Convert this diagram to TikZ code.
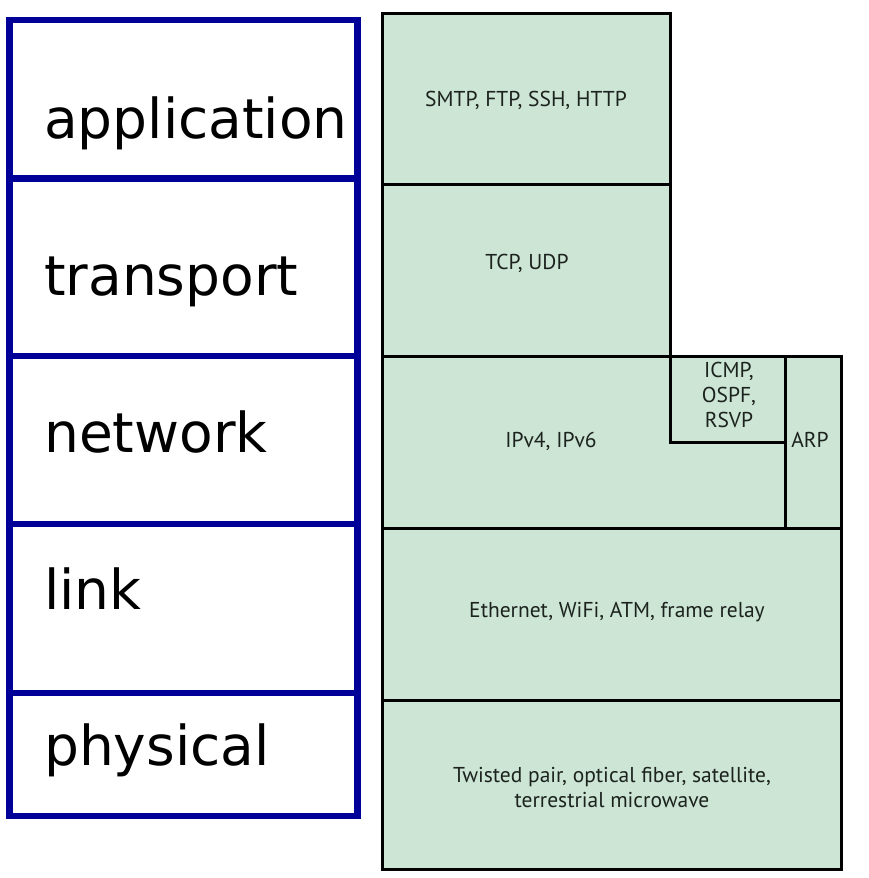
\documentclass[tikz,border=0pt]{standalone}
\usepackage{fontspec}
\setmainfont{DejaVu Sans}
\newfontfamily\protofont{PT Sans}
\usetikzlibrary{positioning}
\definecolor{layerblue}{RGB}{0,0,153}
\definecolor{protogreen}{RGB}{204,229,212}
\definecolor{protoink}{RGB}{28,34,30}

\tikzset{
  layer/.style={draw=layerblue, line width=6.5pt, anchor=north west, minimum width=348pt, inner sep=0pt},
  layername/.style={anchor=base west, inner sep=0pt, font=\fontsize{55}{60}\selectfont},
  proto/.style={draw=black, line width=3pt, fill=protogreen, anchor=north west, inner sep=0pt},
  protoname/.style={font=\protofont\fontsize{21.5}{25}\selectfont, text=protoink, align=center, inner sep=0pt}
}

\begin{document}
\begin{tikzpicture}[x=1pt, y=-1pt]
\useasboundingbox (0,0) rectangle (868,878);

% layer column
\node[layer, minimum height=158.5pt] (app) at (6,16.5) {};
\node[layer, minimum height=177.5pt] (tp) at (6,175) {};
\node[layer, minimum height=168pt] (net) at (6,352.5) {};
\node[layer, minimum height=169pt] (lnk) at (6,520.5) {};
\node[layer, minimum height=123pt] (phy) at (6,689.5) {};

\node[layername] (appname) at (44,138) {application};
\node[layername] (tpname) at (44,295) {transport};
\node[layername] (netname) at (44,452) {network};
\node[layername] (lnkname) at (44,609) {link};
\node[layername] (phyname) at (44,765) {physical};

% protocol column
\node[proto, minimum width=287.5pt, minimum height=171pt] (papp) at (381,12) {};
\node[proto, minimum width=287.5pt, minimum height=172pt] (ptp) at (381,183) {};
\node[proto, minimum width=403pt, minimum height=172pt] (pnet) at (381,355) {};
\node[proto, minimum width=115pt, minimum height=86pt] (picmp) at (669,355) {};
\node[proto, minimum width=56pt, minimum height=172pt] (parp) at (784,355) {};
\node[proto, minimum width=459pt, minimum height=172pt] (plnk) at (381,527) {};
\node[proto, minimum width=459pt, minimum height=169pt] (pphy) at (381,699) {};

\node[protoname] (smtp) at (526,100) {SMTP, FTP, SSH, HTTP};
\node[protoname] (tcp) at (527,263) {TCP, UDP};
\node[protoname] (ipv) at (551,441) {IPv4, IPv6};
\node[protoname] (icmp) at (729,395) {ICMP,\\OSPF,\\RSVP};
\node[protoname] (arp) at (810,440) {ARP};
\node[protoname] (eth) at (617,612) {Ethernet, WiFi, ATM, frame relay};
\node[protoname] (twist) at (612,788) {Twisted pair, optical fiber, satellite,\\terrestrial microwave};
\end{tikzpicture}
\end{document}
